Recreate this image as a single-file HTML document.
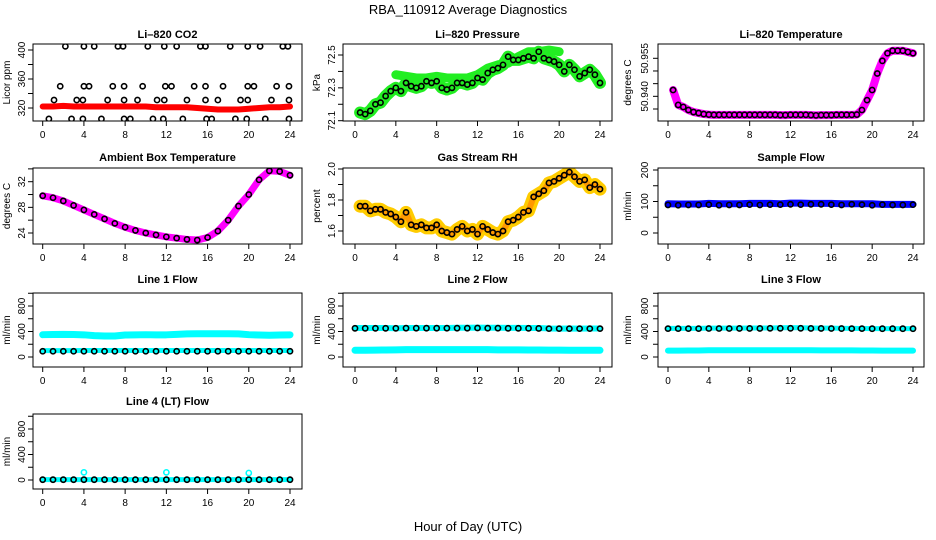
<!DOCTYPE html>
<html><head><meta charset="utf-8">
<style>
body{margin:0;background:#fff;}
svg{display:block;font-family:"Liberation Sans",sans-serif;}
</style></head>
<body>
<svg id="c" width="936" height="540" viewBox="0 0 936 540">
<text x="468" y="14" text-anchor="middle" font-size="13">RBA_110912  Average Diagnostics</text>
<text x="468" y="531" text-anchor="middle" font-size="13">Hour of Day (UTC)</text>
</svg>
<script>
// ---- data ----
const xTicks = [0,4,8,12,16,20,24];
const hoursHalf = [0.5,1,1.5,2,2.5,3,3.5,4,4.5,5,5.5,6,6.5,7,7.5,8,8.5,9,9.5,10,10.5,11,11.5,12,12.5,13,13.5,14,14.5,15,15.5,16,16.5,17,17.5,18,18.5,19,19.5,20,20.5,21,21.5,22,22.5,23,23.5,24];
const hoursFull = [0,1,2,3,4,5,6,7,8,9,10,11,12,13,14,15,16,17,18,19,20,21,22,23,24];

const co2Band = [322,322,323,322,322,322,322,322,322,322,322,321,321,321,321,320,319,318,318,318,319,320,321,321,322];
const co2Hours = [2.2,4,5,7.3,7.8,10.2,11.8,13,15.3,15.8,18.2,19.9,21.1,23.3,23.8,
 1.7,4,4.5,6.8,7.9,9.7,11.9,12.5,14.7,15.8,17.5,19.9,20.5,22.7,23.9,
 1.1,3.3,3.9,6.3,7.9,9.2,11.1,11.8,14,15.8,17,19.2,19.9,22.2,23.9,
 0.6,2.8,3.9,5.7,7.9,8.5,10.7,11.7,13.6,15.9,16.4,18.7,19.8,21.6,23.9];
const co2Values = [405,405,405,405,405,405,405,405,405,405,405,405,405,405,405,
 350,350,350,350,350,350,350,350,350,350,350,350,350,350,350,
 331,331,331,331,331,331,331,331,331,331,331,331,331,331,331,
 305,305,305,305,305,305,305,305,305,305,305,305,305,305,305];

const presMeans = [72.15,72.14,72.16,72.2,72.21,72.25,72.28,72.3,72.28,72.33,72.31,72.3,72.31,72.34,72.33,72.34,72.3,72.29,72.3,72.33,72.33,72.32,72.33,72.36,72.35,72.39,72.41,72.42,72.44,72.49,72.47,72.47,72.48,72.49,72.48,72.52,72.48,72.47,72.46,72.44,72.4,72.44,72.41,72.37,72.39,72.41,72.38,72.33];
const presUpperHours = [4,5,6,7,8,9,10,11,12,13,14,15,16,17,18,19,20];
const presUpper = [72.38,72.37,72.36,72.36,72.37,72.36,72.36,72.36,72.38,72.42,72.44,72.45,72.49,72.52,72.52,72.53,72.52];

const tempMeans = [50.9425,50.9366,50.9358,50.9346,50.9338,50.9334,50.9330,50.9328,50.9327,50.9327,50.9327,50.9327,50.9327,50.9327,50.9327,50.9327,50.9327,50.9327,50.9327,50.9327,50.9327,50.9326,50.9326,50.9327,50.9327,50.9327,50.9327,50.9326,50.9325,50.9326,50.9326,50.9326,50.9327,50.9327,50.9327,50.9327,50.9328,50.9346,50.9385,50.9425,50.949,50.954,50.957,50.958,50.958,50.958,50.9575,50.957];

const ambMeans = [29.8,29.5,29.0,28.3,27.6,26.9,26.2,25.5,24.9,24.4,24.0,23.7,23.4,23.2,23.0,22.9,23.3,24.3,26.0,28.2,30.0,32.3,33.7,33.6,33.0];

const rhMeans = [1.76,1.76,1.73,1.74,1.74,1.72,1.71,1.69,1.66,1.72,1.64,1.63,1.64,1.62,1.62,1.64,1.60,1.59,1.58,1.61,1.63,1.60,1.61,1.58,1.63,1.61,1.59,1.58,1.60,1.66,1.67,1.69,1.72,1.73,1.82,1.84,1.86,1.91,1.92,1.94,1.96,1.98,1.95,1.92,1.93,1.88,1.90,1.87];

const sampleBand = [93,92,92,92,94,93,93,93,94,94,94,93,95,95,94,94,94,93,93,93,93,91,91,91,91];
const sampleMeans = [89,88,89,89,90,88,89,89,90,89,90,90,91,90,91,91,90,89,91,90,88,90,89,89,90];

const line1Upper = [350,352,355,352,348,335,330,330,345,348,350,348,348,355,362,365,365,365,365,363,350,345,342,345,348];
const line1Lower = [100,100,100,100,102,102,102,102,102,102,102,102,102,102,102,102,102,102,102,102,102,102,102,102,102];
const line1Means = [90,90,90,90,90,90,90,90,90,90,90,90,90,90,90,90,90,90,90,90,90,90,90,90,90];
const line2Upper = [455,455,455,455,450,455,455,455,455,455,458,458,460,458,458,456,456,455,455,448,445,448,445,448,448];
const line2Lower = [105,105,108,110,112,115,115,115,115,115,115,115,115,115,112,112,112,110,110,108,108,105,105,105,105];
const line2Means = [450,450,450,450,450,452,452,452,452,452,452,452,455,452,452,450,450,450,448,445,445,445,445,445,445];
const line3Upper = [450,450,450,450,452,452,452,452,455,455,455,458,460,458,455,452,452,450,450,448,445,445,445,445,445];
const line3Lower = [100,100,102,102,105,105,105,105,105,105,105,105,105,105,105,103,103,103,103,102,102,100,100,100,100];
const line3Means = [445,445,445,445,447,447,447,448,448,448,450,450,450,450,448,448,447,446,445,445,444,444,444,444,444];
const line4Band = [5,5,5,5,5,5,5,5,5,5,5,5,5,5,5,5,5,5,5,5,5,5,5,5,5];
const line4Means = [5,5,5,5,5,5,5,5,5,5,5,5,5,5,5,5,5,5,5,5,5,5,5,5,5];
const line4SpikeHours = [4,12,20];
const line4Spikes = [120,120,110];

const co2Ticks=[320,340,360,380,400], co2Labels=["320","","360","","400"];
const presTicks=[72.1,72.2,72.3,72.4,72.5], presLabels=["72.1","","72.3","","72.5"];
const tempTicks=[50.935,50.94,50.945,50.95,50.955], tempLabels=["","50.940","","","50.955"];
const ambTicks=[24,26,28,30,32,34], ambLabels=["24","","28","","32",""];
const rhTicks=[1.6,1.7,1.8,1.9,2.0], rhLabels=["1.6","","1.8","","2.0"];
const sampTicks=[0,50,100,150,200], sampLabels=["0","","100","","200"];
const flowTicks=[0,200,400,600,800,1000], flowLabels=["0","","400","","800",""];

// ---- drawing ----
const svg=document.getElementById('c');
const NS="http://www.w3.org/2000/svg";
function mk(tag,attrs,parent){const e=document.createElementNS(NS,tag);for(const k in attrs)e.setAttribute(k,attrs[k]);(parent||svg).appendChild(e);return e;}
const cols=[{bx0:33,bx1:302,x0:42.7,x24:290,lab:10,tl:25},{bx0:343,bx1:612,x0:355,x24:600,lab:320,tl:335},{bx0:658,bx1:924,x0:668,x24:913,lab:631,tl:648}];
const rows=[{by0:44,by1:121,t:38},{by0:168,by1:244,t:161},{by0:293,by1:367,t:283},{by0:414,by1:489,t:405}];

function panel(name,title,ylab,c,r,v1,p1,v2,p2,ticks,labels,draw){
  const C=cols[c],R=rows[r];
  const g=mk('g',{});
  
  
  const xs=h=>C.x0+(C.x24-C.x0)*h/24;
  const ys=v=>p1+(p2-p1)*(v-v1)/(v2-v1);
  const clip=mk('clipPath',{id:'cl'+name},g);
  mk('rect',{x:C.bx0,y:R.by0,width:C.bx1-C.bx0,height:R.by1-R.by0},clip);
  const plot=mk('g',{'clip-path':'url(#cl'+name+')'},g);
  
  
  draw(plot,xs,ys);
  const box=mk('rect',{x:C.bx0,y:R.by0,width:C.bx1-C.bx0,height:R.by1-R.by0,fill:'none',stroke:'#000','stroke-width':1},g);
  
  
  const t=mk('text',{x:(C.bx0+C.bx1)/2,y:R.t,'text-anchor':'middle','font-size':11,'font-weight':'bold'},g);
  t.textContent=title;
  
  
  xTicks.forEach(h=>{
    mk('line',{x1:xs(h),x2:xs(h),y1:R.by1,y2:R.by1+5,stroke:'#000'},g);
    const tx=mk('text',{x:xs(h),y:R.by1+17,'text-anchor':'middle','font-size':10},g);
    tx.textContent=h;
    
    
  });
  ticks.forEach((v,i)=>{
    const y=ys(v);
    mk('line',{x1:C.bx0-5,x2:C.bx0,y1:y,y2:y,stroke:'#000'},g);
    if(labels[i]){
      const tl=mk('text',{x:C.tl,y:y,'text-anchor':'middle','font-size':10,transform:`rotate(-90 ${C.tl} ${y})`},g);
      tl.textContent=labels[i];
      
      
    }
  });
  const yc=(R.by0+R.by1)/2;
  const yl=mk('text',{x:C.lab,y:yc,'text-anchor':'middle','font-size':10,transform:`rotate(-90 ${C.lab} ${yc})`},g);
  yl.textContent=ylab;
  
  
}
function band(p,xs,ys,hrs,vals,col,w){
  const pl=mk('polyline',{points:hrs.map((h,i)=>xs(h)+','+ys(vals[i])).join(' '),fill:'none',stroke:col,'stroke-width':w,'stroke-linejoin':'round','stroke-linecap':'round'},p);
  
  
}
function dots(p,xs,ys,hrs,vals,col){
  hrs.forEach((h,i)=>{
    const c=mk('circle',{cx:xs(h),cy:ys(vals[i]),r:2.6,fill:'none',stroke:col||'#000','stroke-width':1.6},p);
    
    
  });
}
panel('co2-panel','Li\u2013820 CO2','Licor ppm',0,0,320,108,400,50,co2Ticks,co2Labels,(p,xs,ys)=>{
  band(p,xs,ys,hoursFull,co2Band,'#ff0000',6);
  dots(p,xs,ys,co2Hours,co2Values);
});
panel('pressure-panel','Li\u2013820 Pressure','kPa',1,0,72.1,120.7,72.5,55,presTicks,presLabels,(p,xs,ys)=>{
  band(p,xs,ys,presUpperHours,presUpper,'#22ee22',9);
  band(p,xs,ys,hoursHalf,presMeans,'#22ee22',12);
  dots(p,xs,ys,hoursHalf,presMeans);
});
panel('temperature-panel','Li\u2013820 Temperature','degrees C',2,0,50.935,109,50.955,58.3,tempTicks,tempLabels,(p,xs,ys)=>{
  band(p,xs,ys,hoursHalf,tempMeans,'#ff00ff',8);
  dots(p,xs,ys,hoursHalf,tempMeans);
});
panel('ambient-panel','Ambient Box Temperature','degrees C',0,1,24,233,32,181.7,ambTicks,ambLabels,(p,xs,ys)=>{
  band(p,xs,ys,hoursFull,ambMeans,'#ff00ff',7);
  dots(p,xs,ys,hoursFull,ambMeans);
});
panel('rh-panel','Gas Stream RH','percent',1,1,1.6,231,2.0,169,rhTicks,rhLabels,(p,xs,ys)=>{
  band(p,xs,ys,hoursHalf,rhMeans,'#ffcc00',13);
  band(p,xs,ys,hoursHalf,rhMeans,'#ff9900',6);
  dots(p,xs,ys,hoursHalf,rhMeans);
});
panel('sample-flow-panel','Sample Flow','ml/min',2,1,0,233,200,170,sampTicks,sampLabels,(p,xs,ys)=>{
  band(p,xs,ys,hoursFull,sampleBand,'#0000ff',7);
  dots(p,xs,ys,hoursFull,sampleMeans);
});
panel('line1-panel','Line 1 Flow','ml/min',0,2,0,357,800,306,flowTicks,flowLabels,(p,xs,ys)=>{
  band(p,xs,ys,hoursFull,line1Upper,'#00ffff',7);
  band(p,xs,ys,hoursFull,line1Lower,'#00ffff',5);
  dots(p,xs,ys,hoursFull,line1Means);
});
panel('line2-panel','Line 2 Flow','ml/min',1,2,0,357,800,306,flowTicks,flowLabels,(p,xs,ys)=>{
  band(p,xs,ys,hoursFull,line2Upper,'#00ffff',6);
  band(p,xs,ys,hoursFull,line2Lower,'#00ffff',7);
  dots(p,xs,ys,hoursFull,line2Means);
});
panel('line3-panel','Line 3 Flow','ml/min',2,2,0,357,800,306,flowTicks,flowLabels,(p,xs,ys)=>{
  band(p,xs,ys,hoursFull,line3Upper,'#00ffff',5);
  band(p,xs,ys,hoursFull,line3Lower,'#00ffff',6);
  dots(p,xs,ys,hoursFull,line3Means);
});
panel('line4-panel','Line 4 (LT) Flow','ml/min',0,3,0,480,800,429,flowTicks,flowLabels,(p,xs,ys)=>{
  band(p,xs,ys,hoursFull,line4Band,'#00ffff',5);
  dots(p,xs,ys,hoursFull,line4Means);
  dots(p,xs,ys,line4SpikeHours,line4Spikes,'#00ffff');
});
</script>
</body></html>
